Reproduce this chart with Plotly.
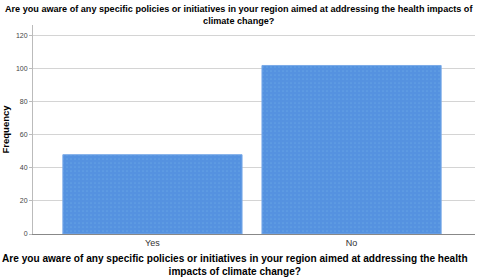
import plotly.graph_objects as go

categories = ["Yes", "No"]
frequencies = [48, 102]
y_ticks = [0, 20, 40, 60, 80, 100, 120]

question = ("Are you aware of any specific policies or initiatives in your region aimed at addressing the health impacts of<br>"
            "climate change?")
x_title = ("Are you aware of any specific policies or initiatives in your region aimed at addressing the health<br>"
           "impacts of climate change?")

fig = go.Figure()
fig.add_trace(go.Bar(
    x=categories, y=frequencies, width=0.9,
    marker=dict(color="#5592e0", line=dict(color="#7aaae8", width=1),
                pattern=dict(shape=".", fgcolor="#6fb0e8", size=4, solidity=0.15)),
))

fig.update_layout(
    width=478, height=280,
    margin=dict(l=33, r=3, t=25, b=46),
    paper_bgcolor="white", plot_bgcolor="white",
    font=dict(family="Arial, Liberation Sans, sans-serif", color="black"),
    showlegend=False,
    bargap=0.1,
    annotations=[
        dict(text="<b>" + question + "</b>", xref="paper", yref="paper", x=0.5, y=1,
             xshift=-15.5, yshift=23, xanchor="center", yanchor="top", showarrow=False,
             font=dict(size=9.1, color="black")),
        dict(text="<b>" + x_title + "</b>", xref="paper", yref="paper", x=0.5, y=0,
             xshift=-19, yshift=-17, xanchor="center", yanchor="top", showarrow=False,
             font=dict(size=10.1, color="black")),
    ],
)
fig.update_xaxes(
    range=[-0.6, 1.62], showgrid=False, showline=True, linecolor="#888888", linewidth=1,
    ticks="", tickfont=dict(size=9, color="#333333"),
)
fig.update_yaxes(
    range=[0, 126.5], tickvals=y_ticks, showgrid=True, gridcolor="#d4d4d4", gridwidth=1,
    showline=True, linecolor="#bbbbbb", linewidth=1, zeroline=False,
    ticks="outside", ticklen=3, tickcolor="#bbbbbb", tickfont=dict(size=7, color="#444444"),
    title=dict(text="<b>Frequency</b>", font=dict(size=9.5, color="black"), standoff=6),
)

fig.write_html("out.html")
